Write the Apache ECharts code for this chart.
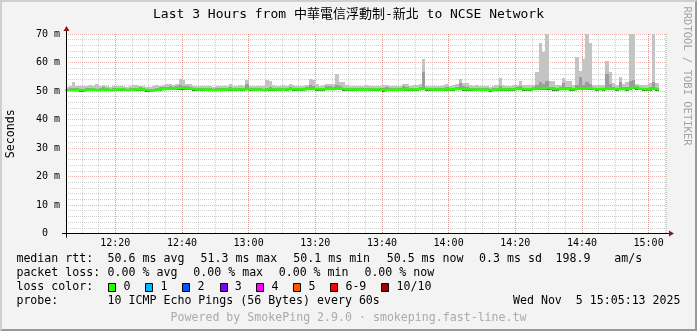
<!DOCTYPE html>
<html><head><meta charset="utf-8">
<script src="https://cdn.jsdelivr.net/npm/echarts@6/dist/echarts.min.js"></script>
<style>html,body{margin:0;padding:0;background:#f3f3f3}#c{width:697px;height:331px}</style>
</head><body><div id="c"></div><script>
// ---------------- data ----------------
const TITLE = 'Last 3 Hours from 中華電信浮動制-新北 to NCSE Network';
const Y_AXIS_NAME = 'Seconds';
const Y_TICKS = [0, 10, 20, 30, 40, 50, 60, 70];
const X_TICK_LABELS = ['12:20','12:40','13:00','13:20','13:40','14:00','14:20','14:40','15:00'];
const WINDOW_START = [2025, 10, 5, 12, 5, 13];
const WINDOW_END = [2025, 10, 5, 15, 5, 13];
const FIRST_STEP_END = [2025, 10, 5, 12, 6, 0];
const STEP_SECONDS = 60;

// median rtt per step (ms)
const median = [
50.3,50.4,50.3,50.4,50.3,50.2,50.4,50.5,50.4,50.3,
50.4,50.5,50.4,50.3,50.4,50.5,50.6,50.4,50.3,50.4,
50.5,50.6,50.5,50.4,50.3,50.1,50.3,50.4,50.6,50.7,
50.8,50.9,50.8,51.0,51.1,51.0,50.9,50.8,50.6,50.5,
50.5,50.4,50.5,50.4,50.3,50.4,50.5,50.4,50.5,50.6,
50.5,50.4,50.6,50.5,50.7,50.5,50.4,50.5,50.4,50.3,
50.5,50.6,50.5,50.4,50.5,50.6,50.5,50.7,50.6,50.5,
50.6,50.5,50.7,50.8,50.7,50.6,50.5,50.6,50.7,50.8,
50.7,50.9,50.8,50.6,50.5,50.6,50.4,50.5,50.4,50.5,
50.4,50.5,50.6,50.5,50.4,50.3,50.4,50.5,50.4,50.5,
50.4,50.5,50.6,50.5,50.6,50.5,50.7,50.8,50.6,50.5,
50.4,50.5,50.4,50.5,50.6,50.5,50.6,50.7,50.8,50.6,
50.6,50.5,50.4,50.5,50.4,50.5,50.4,50.3,50.4,50.5,
50.6,50.5,50.6,50.5,50.6,50.7,50.8,50.6,50.5,50.6,
50.7,50.9,51.0,50.9,51.1,50.8,50.7,50.6,50.7,50.8,
50.7,50.6,50.5,50.8,50.9,50.8,51.0,50.9,50.7,50.6,
50.7,50.6,50.9,50.8,50.7,50.6,50.8,50.7,50.6,51.0,
51.3,50.9,50.7,50.6,50.5,50.6,50.9,50.5
];
// fastest ping per step (ms)
const pingLow = [
49.9,50.0,49.9,50.0,49.8,49.8,50.0,50.0,49.9,49.9,
50.0,50.0,49.9,49.9,50.0,50.1,50.1,50.0,49.9,49.9,
50.1,50.1,50.0,49.9,49.8,49.7,49.9,50.0,50.1,50.2,
50.3,50.4,50.3,50.5,50.5,50.4,50.4,50.3,50.1,50.0,
50.0,50.0,50.1,49.9,49.9,50.0,50.1,50.0,50.0,50.1,
50.0,50.0,50.1,50.0,50.2,50.0,49.9,50.0,49.9,49.9,
50.0,50.1,50.1,50.0,50.0,50.2,50.1,50.2,50.1,50.0,
50.1,50.0,50.2,50.3,50.2,50.1,50.0,50.1,50.2,50.3,
50.2,50.4,50.3,50.1,50.0,50.1,49.9,50.0,49.9,50.0,
50.0,50.0,50.1,50.0,49.9,49.8,49.9,50.0,49.9,50.0,
49.9,50.0,50.1,50.0,50.1,50.0,50.2,50.2,50.1,50.0,
49.9,50.0,49.9,50.0,50.1,50.0,50.1,50.2,50.3,50.1,
50.1,50.0,49.9,50.0,49.9,50.0,49.9,49.8,49.9,50.0,
50.1,50.0,50.1,50.0,50.1,50.2,50.2,50.1,50.0,50.1,
50.2,50.3,50.4,50.3,50.5,50.2,50.1,50.1,50.2,50.2,
50.2,50.1,50.0,50.2,50.3,50.2,50.4,50.3,50.2,50.1,
50.2,50.1,50.4,50.3,50.2,50.1,50.2,50.2,50.1,50.4,
50.6,50.4,50.2,50.1,50.0,50.1,50.3,50.0
];
// upper edge of the denser part of the smoke (ms)
const pingMid = [
50.8,50.9,51.0,50.9,50.7,50.8,50.9,51.2,51.0,50.8,
51.0,51.3,50.9,50.8,50.9,51.1,51.2,50.9,50.8,50.9,
51.0,51.2,51.3,50.9,50.8,50.7,50.8,51.2,51.3,51.4,
51.5,51.6,51.4,51.7,52.0,51.8,51.7,51.4,51.2,51.0,
51.0,50.9,51.1,50.9,50.8,50.9,51.0,50.9,51.1,51.3,
51.0,50.9,51.2,51.1,52.6,51.0,50.9,51.0,50.9,50.8,
51.2,51.4,51.0,50.9,51.0,51.2,51.0,51.5,51.1,51.0,
51.1,51.0,51.5,52.0,51.8,51.2,51.0,51.1,51.6,51.7,
51.3,52.0,51.7,51.2,51.0,51.1,50.9,51.0,50.9,51.0,
51.0,51.1,51.2,51.0,50.9,51.2,51.3,51.0,50.9,51.0,
51.0,51.6,51.5,51.0,51.2,51.1,51.4,56.8,51.2,51.0,
50.9,51.0,50.9,51.0,51.3,51.1,51.2,51.5,52.8,51.6,
51.3,51.0,50.9,51.1,50.9,51.0,50.9,50.8,50.9,51.0,
51.6,51.2,51.1,51.0,51.1,51.4,51.8,51.2,51.0,51.1,
51.4,52.0,53.0,52.5,53.5,51.5,51.3,51.1,51.3,52.8,
51.5,51.4,51.1,52.0,54.8,52.2,53.0,52.5,51.2,51.1,
51.2,51.1,56.0,52.5,51.4,51.1,53.0,51.3,51.4,53.5,
54.0,51.6,51.2,51.1,51.0,51.3,53.0,51.0
];
// slowest ping per step (ms)
const pingHigh = [
51.5,51.7,53.2,51.8,51.6,51.8,51.9,52.0,51.7,52.3,
51.8,52.0,51.6,51.5,51.9,51.9,51.6,51.7,51.5,51.9,
52.0,52.0,51.9,51.6,51.5,51.4,51.9,52.0,51.8,52.1,
52.3,52.4,52.0,52.3,54.1,53.8,52.6,52.5,51.9,51.8,
51.9,51.7,51.8,51.6,51.5,51.8,51.9,51.7,51.8,52.6,
51.8,51.9,52.1,51.9,53.7,51.9,51.7,51.9,51.6,51.6,
53.7,53.6,52.0,51.8,51.9,52.2,51.9,52.6,52.0,51.8,
51.9,51.8,52.2,54.1,54.0,52.3,51.9,52.0,52.6,52.6,
52.5,56.1,53.2,53.0,52.0,51.9,51.8,51.9,51.7,51.8,
52.0,51.8,51.7,51.6,51.7,52.0,52.0,51.7,51.6,51.9,
51.8,52.6,52.4,51.9,52.0,52.0,52.3,61.2,51.8,51.7,
51.6,51.8,51.7,52.0,52.6,51.9,52.0,52.4,54.1,52.9,
52.9,52.0,51.9,52.0,51.6,51.7,51.6,51.4,51.7,52.0,
54.6,52.0,51.9,51.8,52.0,52.2,53.6,52.1,52.0,52.1,
52.1,56.8,67.0,63.8,71.0,53.6,53.6,52.1,52.1,54.5,
53.6,53.6,52.1,61.8,57.1,61.1,71.0,67.0,52.2,52.1,
52.0,52.1,60.6,56.8,52.7,52.1,54.8,52.3,53.3,71.0,
71.0,52.4,52.2,52.0,52.0,52.7,71.0,52.7
];

const RTT_LABEL = 'median rtt:';
const RTT_STATS = ['50.6 ms avg', '51.3 ms max', '50.1 ms min', '50.5 ms now', '0.3 ms sd', '198.9', 'am/s'];
const LOSS_LABEL = 'packet loss:';
const LOSS_STATS = ['0.00 % avg', '0.00 % max', '0.00 % min', '0.00 % now'];
const LOSS_COLOR_LABEL = 'loss color:';
const LOSS_LEVELS = ['0', '1', '2', '3', '4', '5', '6-9', '10/10'];
const PROBE_LABEL = 'probe:';
const PROBE_TEXT = '10 ICMP Echo Pings (56 Bytes) every 60s';
const STAMP_TEXT = 'Wed Nov  5 15:05:13 2025';
const FOOTER_TEXT = 'Powered by SmokePing 2.9.0 · smokeping.fast-line.tw';
const SIDE_TEXT = 'RRDTOOL / TOBI OETIKER';

// ---------------- styles / layout ----------------
const LOSS_SWATCH_COLORS = ['#26ff00', '#00b8ff', '#0059ff', '#7e00ff', '#ff00ff', '#ff5500', '#ff0000', '#a10000'];
const MONO = '"DejaVu Sans Mono", "Noto Sans CJK TC", monospace';
const W = 697, H = 331;
const PLOT = { left: 66, top: 34, width: 600, height: 199.5 };
const MINUTE = 60000;

const toTime = a => new Date(a[0], a[1], a[2], a[3], a[4], a[5]).getTime();
const tStart = toTime(WINDOW_START), tEnd = toTime(WINDOW_END), tFirst = toTime(FIRST_STEP_END);
const STEP = STEP_SECONDS * 1000;

const smokeData = median.map((m, i) => [tFirst + i * STEP, pingLow[i], pingMid[i], pingHigh[i], m]);
const medianLine = median.map((m, i) => [tFirst + i * STEP - STEP, m]);
medianLine.push([tFirst + (median.length - 1) * STEP, median[median.length - 1]]);

const pad = n => (n < 10 ? '0' : '') + n;
const fmtHM = v => { const d = new Date(v); return pad(d.getHours()) + ':' + pad(d.getMinutes()); };

function renderSmoke(params, api) {
  const t = api.value(0);
  const lo = api.value(1), mid = api.value(2), hi = api.value(3), med = api.value(4);
  const a = api.coord([t - STEP, hi]);
  const b = api.coord([t, lo]);
  const m = api.coord([t, mid]);
  const c = api.coord([t, med]);
  const x0 = Math.round(a[0]), x1 = Math.round(b[0]);
  const yHi = Math.round(a[1]), yLo = Math.round(b[1]), yMid = Math.round(m[1]), yMed = Math.round(c[1]);
  const w = x1 - x0;
  return {
    type: 'group',
    children: [
      { type: 'rect', shape: { x: x0, y: yHi, width: w, height: yLo - yHi }, style: { fill: '#c4c4c4' } },
      { type: 'rect', shape: { x: x0, y: yMid, width: w, height: yLo - yMid }, style: { fill: '#9c9c9c' } },
      { type: 'rect', shape: { x: x0, y: yMed, width: w, height: yLo - yMed }, style: { fill: '#5a5a5a' } }
    ]
  };
}

function txt(x, y, text, o) {
  o = o || {};
  return {
    type: 'text', x: x, y: y, rotation: o.rotation || 0, z: 50,
    style: {
      text: text, font: (o.size || 11.6) + 'px ' + MONO, fill: o.fill || '#000',
      align: o.align || 'left', verticalAlign: 'middle'
    }
  };
}

const graphics = [];
// 3D frame
graphics.push({ type: 'polygon', z: 40, shape: { points: [[0,0],[W,0],[W-2,2],[2,2],[2,H-2],[0,H]] }, style: { fill: '#cfcfcf' } });
graphics.push({ type: 'polygon', z: 40, shape: { points: [[W,0],[W,H],[0,H],[2,H-2],[W-2,H-2],[W-2,2]] }, style: { fill: '#9a9a9a' } });
// axes lines + arrows
const axY = Math.floor(PLOT.top + PLOT.height) + 0.5, axX = PLOT.left + 0.5;
const xEnd = PLOT.left + PLOT.width;
graphics.push({ type: 'line', z: 60, shape: { x1: PLOT.left - 4, y1: axY, x2: xEnd + 4, y2: axY }, style: { stroke: '#000', lineWidth: 1 } });
graphics.push({ type: 'line', z: 60, shape: { x1: axX, y1: axY + 4, x2: axX, y2: PLOT.top - 3 }, style: { stroke: '#000', lineWidth: 1 } });
graphics.push({ type: 'polygon', z: 61, shape: { points: [[xEnd + 8, axY], [xEnd + 3, axY - 3], [xEnd + 3, axY + 3]] }, style: { fill: '#8b1a1a' } });
graphics.push({ type: 'polygon', z: 61, shape: { points: [[axX, PLOT.top - 8], [axX - 3, PLOT.top - 3], [axX + 3, PLOT.top - 3]] }, style: { fill: '#8b1a1a' } });

// title, axis name, side text
graphics.push(txt(W / 2, 15, TITLE, { size: 13, align: 'center' }));
graphics.push(txt(10.5, PLOT.top + PLOT.height / 2, Y_AXIS_NAME, { align: 'center', rotation: Math.PI / 2 }));
graphics.push(txt(686.5, 76, SIDE_TEXT, { size: 10.5, align: 'center', rotation: -Math.PI / 2, fill: '#a3a3a3' }));

// legend rows
const RTT_X = [107.6, 200.5, 293.3, 386.7, 479.1, 555.6, 614.2];
graphics.push(txt(16.4, 259, RTT_LABEL));
RTT_STATS.forEach((s, i) => graphics.push(txt(RTT_X[i], 259, s)));
const LOSS_X = [107.6, 193.3, 278.7, 364.4];
graphics.push(txt(16.4, 273, LOSS_LABEL));
LOSS_STATS.forEach((s, i) => graphics.push(txt(LOSS_X[i], 273, s)));
const SW_X = [108.4, 145.3, 182.2, 219.6, 256.4, 293.3, 330.2, 381.3];
graphics.push(txt(16.4, 287, LOSS_COLOR_LABEL));
LOSS_LEVELS.forEach((s, i) => {
  graphics.push({ type: 'rect', z: 50, shape: { x: Math.round(SW_X[i]) + 0.5, y: 283.5, width: 7, height: 8 }, style: { fill: LOSS_SWATCH_COLORS[i], stroke: '#000', lineWidth: 1 } });
  graphics.push(txt(SW_X[i] + 15.2, 287, s));
});
graphics.push(txt(16.4, 301, PROBE_LABEL));
graphics.push(txt(107.6, 301, PROBE_TEXT));
graphics.push(txt(680.5, 301, STAMP_TEXT, { align: 'right' }));
graphics.push(txt(W / 2, 318, FOOTER_TEXT, { align: 'center', fill: '#ababab' }));

const MINOR_GRID = { color: 'rgba(150,150,150,0.45)', type: [1, 1], width: 1 };
const MAJOR_GRID = { color: 'rgba(225,100,100,0.5)', type: [1, 1], width: 1 };

const chart = echarts.init(document.getElementById('c'), null, { renderer: 'canvas' });
chart.setOption({
  animation: false,
  backgroundColor: '#f3f3f3',
  grid: { left: PLOT.left, top: PLOT.top, width: PLOT.width, height: PLOT.height, show: true, backgroundColor: '#ffffff', borderWidth: 0 },
  xAxis: [
    { // minor 5-minute grid
      type: 'time', position: 'bottom', min: tStart, max: tEnd, minInterval: 7 * MINUTE, maxInterval: 7 * MINUTE,
      axisLine: { show: false }, axisTick: { show: false }, axisLabel: { show: false },
      splitLine: { show: true, showMinLine: false, lineStyle: MINOR_GRID }
    },
    { // major 20-minute grid with labels
      type: 'time', position: 'bottom', min: tStart, max: tEnd, minInterval: 25 * MINUTE, maxInterval: 25 * MINUTE,
      axisLine: { show: false }, axisTick: { show: false },
      axisLabel: {
        show: true, margin: 5, color: '#000', fontFamily: MONO, fontSize: 10,
        showMinLabel: false, showMaxLabel: false, hideOverlap: false,
        formatter: v => { const s = fmtHM(v); return X_TICK_LABELS.indexOf(s) >= 0 ? s : ''; }
      },
      splitLine: { show: true, showMinLine: false, showMaxLine: false, lineStyle: MAJOR_GRID }
    }
  ],
  yAxis: {
    type: 'value', min: Y_TICKS[0], max: Y_TICKS[Y_TICKS.length - 1], interval: Y_TICKS[1] - Y_TICKS[0],
    axisLine: { show: false }, axisTick: { show: false },
    axisLabel: { margin: 6, color: '#000', fontFamily: MONO, fontSize: 10,
      formatter: v => (Y_TICKS.indexOf(v) < 0 ? '' : (v === 0 ? '0  ' : v + ' m')) },
    splitLine: { show: true, lineStyle: MAJOR_GRID },
    minorTick: { show: false, splitNumber: 5 },
    minorSplitLine: { show: true, lineStyle: MINOR_GRID }
  },
  series: [
    {
      type: 'custom', xAxisIndex: 1, yAxisIndex: 0, clip: true, z: 5,
      renderItem: renderSmoke, data: smokeData, encode: { x: 0, y: [1, 2, 3, 4] }, silent: true
    },
    {
      type: 'line', xAxisIndex: 1, yAxisIndex: 0, step: 'end', showSymbol: false, symbol: 'none', z: 6,
      data: medianLine, lineStyle: { color: '#26ff00', width: 2.5 }, silent: true
    }
  ],
  graphic: graphics
});
</script></body></html>
